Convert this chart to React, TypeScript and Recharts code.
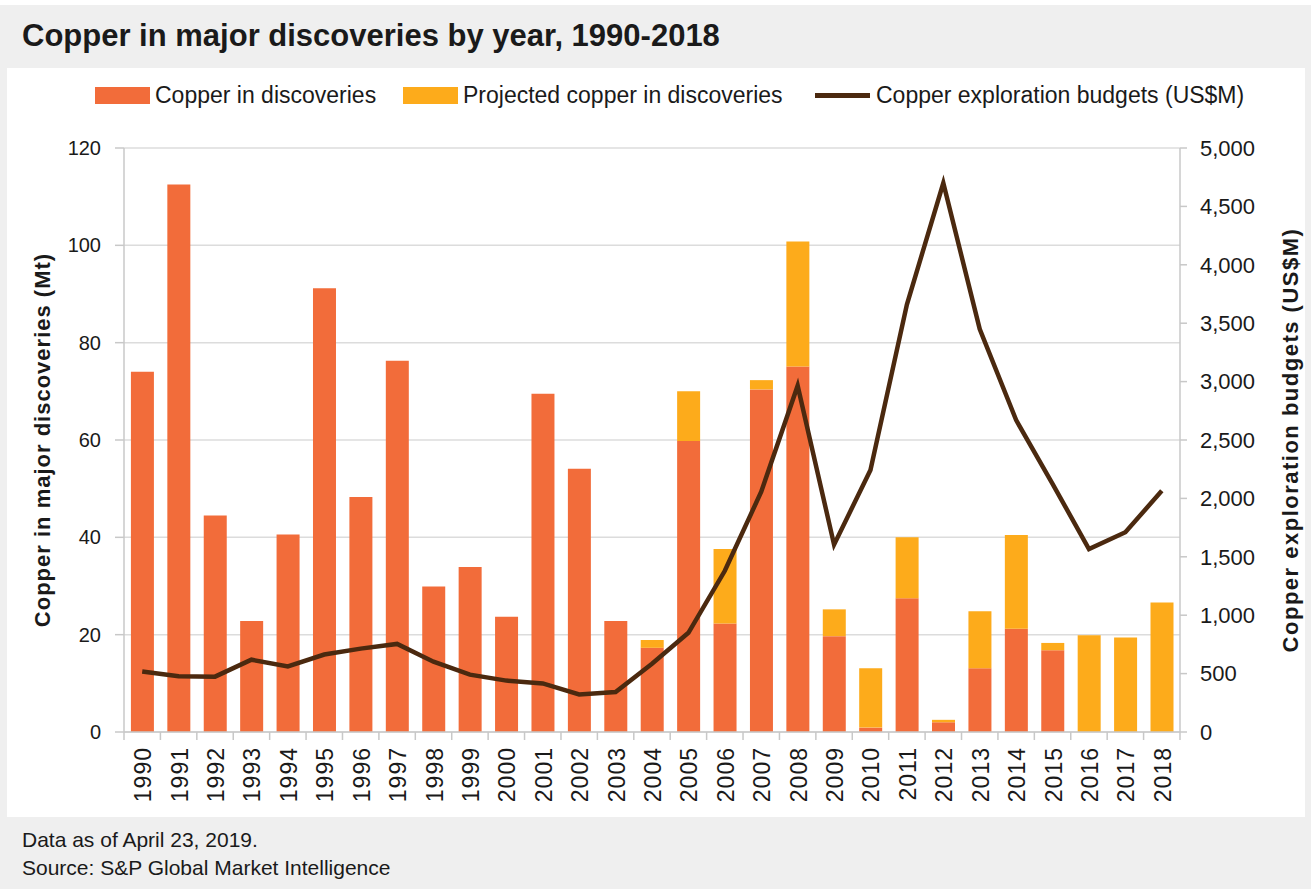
import React from 'react';
import { ComposedChart, Bar, Line, XAxis, YAxis, CartesianGrid, Label } from 'recharts';

// values
const years = [
  '1990', '1991', '1992', '1993', '1994', '1995', '1996', '1997', '1998', '1999',
  '2000', '2001', '2002', '2003', '2004', '2005', '2006', '2007', '2008', '2009',
  '2010', '2011', '2012', '2013', '2014', '2015', '2016', '2017', '2018',
];

// Mt, copper in discoveries
const discovered = [
  74, 112.5, 44.5, 22.8, 40.6, 91.2, 48.3, 76.3, 29.9, 33.9,
  23.7, 69.5, 54.1, 22.8, 17.3, 59.8, 22.3, 70.4, 75.1, 19.7,
  0.9, 27.5, 2.0, 13.1, 21.2, 16.8, 0, 0, 0,
];

// Mt, projected copper stacked on top
const projected = [
  0, 0, 0, 0, 0, 0, 0, 0, 0, 0,
  0, 0, 0, 0, 1.6, 10.2, 15.3, 1.9, 25.7, 5.5,
  12.2, 12.5, 0.5, 11.7, 19.3, 1.5, 19.9, 19.4, 26.6,
];

// US$M, copper exploration budgets
const budgets = [
  518, 477, 474, 619, 562, 663, 714, 754, 602, 491,
  440, 416, 321, 342, 585, 849, 1380, 2057, 2965, 1604,
  2243, 3660, 4700, 3450, 2670, 2125, 1566, 1710, 2065,
];

const leftTicks = [0, 20, 40, 60, 80, 100, 120];
const rightTicks = [0, 500, 1000, 1500, 2000, 2500, 3000, 3500, 4000, 4500, 5000];

const data = years.map((year, i) => ({
  year,
  discovered: discovered[i],
  projected: projected[i],
  budget: budgets[i],
}));

const ORANGE = '#f26c3a';
const YELLOW = '#fdab1b';
const BROWN = '#4b290f';
const NARROW = '"Liberation Sans Narrow", "Arial Narrow", "Liberation Sans", sans-serif';
const SANS = '"Liberation Sans", Arial, sans-serif';

const BAND = 1056 / 29;

const YearTick = (props: any) => {
  const { x, y, payload, index } = props;
  return (
    <g>
      <line x1={x - BAND / 2} x2={x - BAND / 2} y1={y} y2={y + 8} stroke="#c8c8c8" strokeWidth={1.5} />
      {index === years.length - 1 && (
        <line x1={x + BAND / 2} x2={x + BAND / 2} y1={y} y2={y + 8} stroke="#c8c8c8" strokeWidth={1.5} />
      )}
      <text
        transform={`translate(${x + 1},${y + 15}) rotate(-90)`}
        textAnchor="end"
        dominantBaseline="central"
        fontSize={23}
        letterSpacing={1}
        fontFamily={SANS}
        fill="#1a1a1a"
      >
        {payload.value}
      </text>
    </g>
  );
};

const AxisTitle = (props: any) => {
  const { viewBox, value, dx, size, spacing } = props;
  const cx = viewBox.x + dx;
  const cy = viewBox.y + viewBox.height / 2;
  return (
    <text
      transform={`translate(${cx},${cy}) rotate(-90)`}
      textAnchor="middle"
      dominantBaseline="central"
      fontSize={size}
      letterSpacing={spacing}
      fontWeight="bold"
      fontFamily={SANS}
      fill="#1a1a1a"
    >
      {value}
    </text>
  );
};

const legendText: React.CSSProperties = {
  position: 'absolute',
  top: 80,
  fontSize: 23,
  fontFamily: NARROW,
  color: '#1a1a1a',
  whiteSpace: 'nowrap',
  lineHeight: '30px',
};

const App: React.FC = () => {
  return (
    <div
      style={{
        position: 'absolute',
        left: 0,
        top: 0,
        width: 1311,
        height: 889,
        background: '#efefef',
        overflow: 'hidden',
      }}
    >
      <div style={{ position: 'absolute', left: 0, top: 0, width: 1311, height: 5, background: '#fff' }} />
      <div
        style={{
          position: 'absolute',
          left: 22,
          top: 18,
          fontSize: 31,
          fontWeight: 'bold',
          fontFamily: NARROW,
          color: '#1a1a1a',
          whiteSpace: 'nowrap',
        }}
      >
        Copper in major discoveries by year, 1990-2018
      </div>

      {/* white chart panel */}
      <div style={{ position: 'absolute', left: 7, top: 68, width: 1298, height: 749, background: '#fff' }} />

      {/* legend */}
      <div style={{ position: 'absolute', left: 95, top: 87, width: 55, height: 17, background: ORANGE }} />
      <div style={{ ...legendText, left: 155 }}>Copper in discoveries</div>
      <div style={{ position: 'absolute', left: 403, top: 87, width: 55, height: 17, background: YELLOW }} />
      <div style={{ ...legendText, left: 463 }}>Projected copper in discoveries</div>
      <div style={{ position: 'absolute', left: 815, top: 93, width: 55, height: 5, background: BROWN }} />
      <div style={{ ...legendText, left: 876 }}>Copper exploration budgets (US$M)</div>

      <div style={{ position: 'absolute', left: 5, top: 68 }}>
        <ComposedChart
          width={1300}
          height={747}
          data={data}
          margin={{ top: 80, right: 0, left: 0, bottom: 0 }}
          barCategoryGap="19%"
        >
          <CartesianGrid yAxisId="left" vertical={false} stroke="#dcdcdc" strokeWidth={1.5} />
          <XAxis
            dataKey="year"
            xAxisId={0}
            height={83}
            interval={0}
            tickLine={false}
            tickSize={0}
            tickMargin={0}
            axisLine={{ stroke: '#c8c8c8', strokeWidth: 1.5 }}
            tick={<YearTick />}
          />
          <YAxis
            yAxisId="left"
            width={119}
            domain={[0, 120]}
            ticks={leftTicks}
            interval={0}
            tickSize={9}
            tickMargin={14}
            axisLine={{ stroke: '#c8c8c8', strokeWidth: 1.5 }}
            tickLine={{ stroke: '#c8c8c8', strokeWidth: 1.5 }}
            tick={{ fontSize: 20, fontFamily: SANS, fill: '#1a1a1a' }}
          >
            <Label
              content={<AxisTitle dx={37} size={22} spacing={1} value="Copper in major discoveries (Mt)" />}
            />
          </YAxis>
          <YAxis
            yAxisId="right"
            orientation="right"
            width={125}
            domain={[0, 5000]}
            ticks={rightTicks}
            interval={0}
            tickSize={7}
            tickMargin={13}
            tickFormatter={(v: number) => v.toLocaleString('en-US')}
            axisLine={{ stroke: '#c8c8c8', strokeWidth: 1.5 }}
            tickLine={{ stroke: '#c8c8c8', strokeWidth: 1.5 }}
            tick={{ fontSize: 22, fontFamily: SANS, fill: '#1a1a1a' }}
          >
            <Label
              content={<AxisTitle dx={110} size={22} spacing={1.5} value="Copper exploration budgets (US$M)" />}
            />
          </YAxis>
          <Bar
            yAxisId="left"
            dataKey="discovered"
            stackId="cu"
            fill={ORANGE}
            isAnimationActive={false}
          />
          <Bar
            yAxisId="left"
            dataKey="projected"
            stackId="cu"
            fill={YELLOW}
            isAnimationActive={false}
          />
          <Line
            yAxisId="right"
            dataKey="budget"
            type="linear"
            stroke={BROWN}
            strokeWidth={4.5}
            dot={false}
            isAnimationActive={false}
          />
        </ComposedChart>
      </div>

      <div
        style={{
          position: 'absolute',
          left: 22,
          top: 826,
          fontSize: 21,
          lineHeight: '28px',
          fontFamily: NARROW,
          color: '#1a1a1a',
          whiteSpace: 'nowrap',
        }}
      >
        <div>Data as of April 23, 2019.</div>
        <div>Source: S&amp;P Global Market Intelligence</div>
      </div>
    </div>
  );
};

export default App;
